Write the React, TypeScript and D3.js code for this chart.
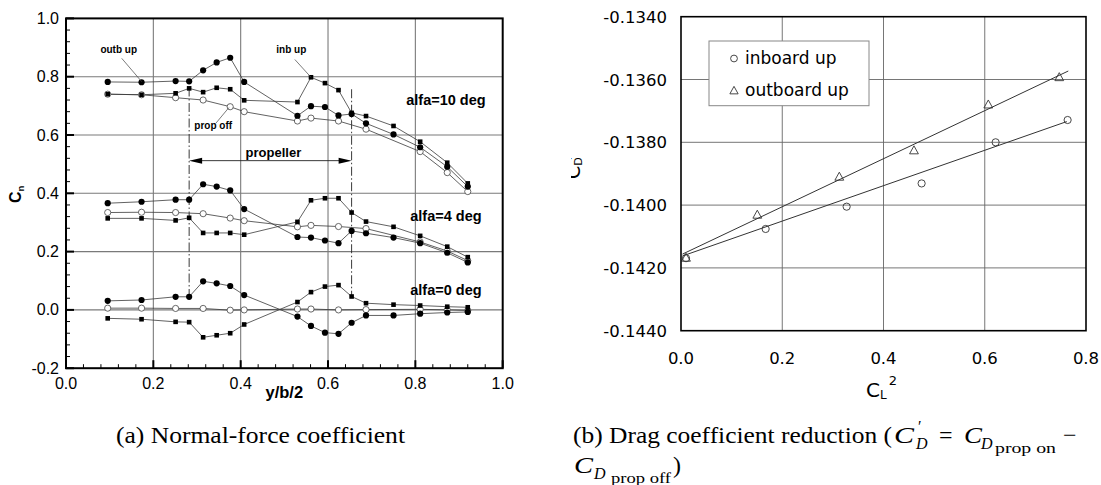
import React from "react";
import * as d3 from "d3";

// ---------- Left chart data (normal-force coefficient) ----------
const stations = [0.0955, 0.173, 0.251, 0.282, 0.314, 0.345, 0.376, 0.408, 0.530, 0.561, 0.593, 0.624, 0.654, 0.687, 0.750, 0.811, 0.873, 0.920];
const propOffStations = [0.0955, 0.173, 0.251, 0.314, 0.376, 0.408, 0.530, 0.561, 0.624, 0.687, 0.811, 0.873, 0.920];

const outbUp10 = [0.782, 0.781, 0.785, 0.784, 0.822, 0.849, 0.865, 0.782, 0.666, 0.699, 0.696, 0.667, 0.672, 0.640, 0.602, 0.558, 0.491, 0.423];
const inbUp10 = [0.740, 0.738, 0.743, 0.760, 0.747, 0.762, 0.757, 0.719, 0.713, 0.798, 0.778, 0.754, 0.676, 0.665, 0.631, 0.577, 0.505, 0.434];
const propOff10 = [0.740, 0.738, 0.728, 0.720, 0.697, 0.680, 0.648, 0.658, 0.648, 0.620, 0.543, 0.471, 0.406];

const outbUp4 = [0.366, 0.371, 0.378, 0.378, 0.431, 0.423, 0.410, 0.346, 0.250, 0.248, 0.238, 0.229, 0.271, 0.263, 0.248, 0.229, 0.196, 0.163];
const inbUp4 = [0.314, 0.314, 0.307, 0.316, 0.264, 0.264, 0.264, 0.258, 0.302, 0.376, 0.383, 0.383, 0.334, 0.303, 0.285, 0.254, 0.217, 0.181];
const propOff4 = [0.334, 0.335, 0.334, 0.330, 0.315, 0.306, 0.285, 0.290, 0.286, 0.279, 0.233, 0.202, 0.169];

const outbUp0 = [0.031, 0.034, 0.045, 0.045, 0.098, 0.091, 0.082, 0.051, -0.023, -0.055, -0.078, -0.082, -0.044, -0.019, -0.019, -0.013, -0.009, -0.007];
const inbUp0 = [-0.029, -0.032, -0.041, -0.042, -0.094, -0.087, -0.080, -0.050, 0.027, 0.061, 0.080, 0.085, 0.046, 0.023, 0.018, 0.015, 0.011, 0.009];
const propOff0 = [0.006, 0.006, 0.005, 0.005, -0.001, 0.000, 0.003, 0.003, 0.000, 0.001, 0.002, 0.000, -0.002];

const leftXTicks = [0.0, 0.2, 0.4, 0.6, 0.8, 1.0];
const leftYTicks = [-0.2, 0.0, 0.2, 0.4, 0.6, 0.8, 1.0];
const propellerEdges = [0.282, 0.654];
const propellerLineTop = [0.763, 0.757];
const propellerLineBottom = 0.046;
const propellerArrowY = 0.512;

const caseLabels = ["alfa=10 deg", "alfa=4 deg", "alfa=0 deg"];
const caseLabelX = 0.870;
const caseLabelY = [0.703, 0.306, 0.051];

// annotation: [text, x, y, leaderFromX, leaderFromY, leaderToX, leaderToY]
const annotations: [string, number, number, number, number, number, number][] = [
  ["outb up", 0.1207, 0.882, 0.1276, 0.863, 0.1733, 0.783],
  ["inb up", 0.516, 0.880, 0.524, 0.859, 0.561, 0.798],
  ["prop off", 0.337, 0.619, 0.343, 0.640, 0.373, 0.694],
];

// ---------- Right chart data (drag coefficient reduction) ----------
const inboardX = [0.0099, 0.1672, 0.3272, 0.4753, 0.6215, 0.7637];
const inboardY = [-0.14169, -0.14076, -0.14005, -0.13931, -0.13800, -0.13729];
const outboardX = [0.0099, 0.1507, 0.3127, 0.4602, 0.6070, 0.7472];
const outboardY = [-0.14169, -0.14032, -0.13911, -0.13827, -0.13681, -0.13594];
const inboardFitX = [0.003, 0.762];
const inboardFitY = [-0.14162, -0.13734];
const outboardFitX = [0.003, 0.765];
const outboardFitY = [-0.14156, -0.13573];
const rightXTicks = [0.0, 0.2, 0.4, 0.6, 0.8];
const rightYTicks = [-0.144, -0.142, -0.140, -0.138, -0.136, -0.134];
const legendLabels = ["inboard up", "outboard up"];

export default function App() {
  const xL = d3.scaleLinear().domain([0, 1]).range([66, 502.7]);
  const yL = d3.scaleLinear().domain([-0.2, 1]).range([368.2, 18.4]);
  const xR = d3.scaleLinear().domain([0, 0.8]).range([681, 1086]);
  const yR = d3.scaleLinear().domain([-0.144, -0.134]).range([330.7, 16.7]);

  const lineL = d3.line<[number, number]>().x((d) => xL(d[0])).y((d) => yL(d[1]));
  const lineR = d3.line<[number, number]>().x((d) => xR(d[0])).y((d) => yR(d[1]));

  const zip = (xs: number[], ys: number[]) => xs.map((x, i) => [x, ys[i]] as [number, number]);

  const filledSeries = [outbUp10, outbUp4, outbUp0];
  const squareSeries = [inbUp10, inbUp4, inbUp0];
  const openSeries = [propOff10, propOff4, propOff0];

  const minorX = d3.range(0, 1.0001, 0.04);
  const minorY = d3.range(-0.2, 1.0001, 0.04);

  const lineColor = "#3a3a3a";
  const sansL = "'Liberation Sans', Arial, Helvetica, sans-serif";
  const sansR = "'DejaVu Sans', Verdana, sans-serif";
  const serif = "'Liberation Serif', 'Times New Roman', serif";

  const tri = (cx: number, cy: number, s: number) =>
    `M${cx},${cy - s * 0.62} L${cx + s * 0.55},${cy + s * 0.38} L${cx - s * 0.55},${cy + s * 0.38} Z`;

  const arrowY = yL(propellerArrowY);
  const aL = xL(propellerEdges[0]);
  const aR = xL(propellerEdges[1]);

  return (
    <svg
      width={1101}
      height={485}
      style={{ position: "absolute", left: 0, top: 0, background: "#fff" }}
      xmlns="http://www.w3.org/2000/svg"
    >
      <rect x={0} y={0} width={1101} height={485} fill="#fff" />
      <defs>
        <clipPath id="clipYTitle">
          <rect x={571} y={0} width={100} height={485} />
        </clipPath>
      </defs>

      {/* ================= LEFT CHART ================= */}
      {leftXTicks.slice(1, -1).map((t) => (
        <line key={"gx" + t} x1={xL(t)} x2={xL(t)} y1={yL(1)} y2={yL(-0.2)} stroke="#7a7a7a" strokeWidth={1.1} />
      ))}
      {leftYTicks.slice(1, -1).map((t) => (
        <line key={"gy" + t} x1={xL(0)} x2={xL(1)} y1={yL(t)} y2={yL(t)} stroke="#7a7a7a" strokeWidth={1.1} />
      ))}
      {minorX.map((t, i) => (
        <line key={"mx" + i} x1={xL(t)} x2={xL(t)} y1={yL(-0.2)} y2={yL(-0.2) - (i % 5 === 0 ? 8 : 4)} stroke="#000" strokeWidth={i % 5 === 0 ? 2 : 1} />
      ))}
      {minorY.map((t, i) => (
        <line key={"my" + i} x1={xL(0)} x2={xL(0) + (i % 5 === 0 ? 8 : 4)} y1={yL(t)} y2={yL(t)} stroke="#000" strokeWidth={i % 5 === 0 ? 2 : 1} />
      ))}

      {propellerEdges.map((e, i) => (
        <line key={"pe" + i} x1={xL(e)} x2={xL(e)} y1={yL(propellerLineTop[i])} y2={yL(propellerLineBottom)} stroke="#222" strokeWidth={0.9} strokeDasharray="9,2.5,1.5,2.5" />
      ))}
      <line x1={aL + 10} x2={aR - 10} y1={arrowY} y2={arrowY} stroke="#222" strokeWidth={0.9} />
      <path d={`M${aL},${arrowY} L${aL + 13},${arrowY - 3} L${aL + 13},${arrowY + 3} Z`} fill="#000" />
      <path d={`M${aR},${arrowY} L${aR - 13},${arrowY - 3} L${aR - 13},${arrowY + 3} Z`} fill="#000" />
      <text x={xL(0.475)} y={arrowY - 4} textAnchor="middle" fontFamily={sansL} fontWeight="bold" fontSize={13}>
        propeller
      </text>

      {filledSeries.map((s, k) => (
        <path key={"fl" + k} d={lineL(zip(stations, s)) || ""} fill="none" stroke={lineColor} strokeWidth={0.8} />
      ))}
      {squareSeries.map((s, k) => (
        <path key={"sl" + k} d={lineL(zip(stations, s)) || ""} fill="none" stroke={lineColor} strokeWidth={0.8} />
      ))}
      {openSeries.map((s, k) => (
        <path key={"ol" + k} d={lineL(zip(propOffStations, s)) || ""} fill="none" stroke={lineColor} strokeWidth={0.8} />
      ))}

      {openSeries.map((s, k) =>
        s.map((v, i) => (
          <circle key={`om${k}-${i}`} cx={xL(propOffStations[i])} cy={yL(v)} r={3.1} fill="#fff" stroke="#444" strokeWidth={0.8} />
        ))
      )}
      {squareSeries.map((s, k) =>
        s.map((v, i) => (
          <rect key={`sm${k}-${i}`} x={xL(stations[i]) - 2.3} y={yL(v) - 2.3} width={4.6} height={4.6} fill="#000" />
        ))
      )}
      {filledSeries.map((s, k) =>
        s.map((v, i) => (
          <circle key={`fm${k}-${i}`} cx={xL(stations[i])} cy={yL(v)} r={3.1} fill="#000" />
        ))
      )}

      {annotations.map((a) => (
        <g key={a[0]}>
          <line x1={xL(a[3])} y1={yL(a[4])} x2={xL(a[5])} y2={yL(a[6])} stroke="#444" strokeWidth={0.7} />
          <text x={xL(a[1])} y={yL(a[2])} textAnchor="middle" fontFamily={sansL} fontWeight="bold" fontSize={10}>
            {a[0]}
          </text>
        </g>
      ))}
      {caseLabels.map((c, i) => (
        <text key={c} x={xL(caseLabelX)} y={yL(caseLabelY[i])} textAnchor="middle" fontFamily={sansL} fontWeight="bold" fontSize={14.5}>
          {c}
        </text>
      ))}

      <rect x={xL(0)} y={yL(1)} width={xL(1) - xL(0)} height={yL(-0.2) - yL(1)} fill="none" stroke="#000" strokeWidth={2} />

      {leftXTicks.map((t) => (
        <text key={"xl" + t} x={xL(t)} y={388.5} textAnchor="middle" fontFamily={sansL} fontSize={16}>
          {d3.format(".1f")(t)}
        </text>
      ))}
      {leftYTicks.map((t) => (
        <text key={"yl" + t} x={59} y={yL(t) + 5.5} textAnchor="end" fontFamily={sansL} fontSize={16}>
          {d3.format(".1f")(t).replace("−", "-")}
        </text>
      ))}
      <text x={xL(0.5)} y={397.5} textAnchor="middle" fontFamily={sansL} fontWeight="bold" fontSize={16.5}>
        y/b/2
      </text>
      <text transform="translate(21,203) rotate(-90)" fontFamily={sansL} fontWeight="bold" fontSize={16}>
        C<tspan fontSize={9.5} dy={3}>n</tspan>
      </text>

      {/* ================= RIGHT CHART ================= */}
      {rightXTicks.slice(1, -1).map((t) => (
        <line key={"rgx" + t} x1={xR(t)} x2={xR(t)} y1={yR(-0.134)} y2={yR(-0.144)} stroke="#666" strokeWidth={0.9} />
      ))}
      {rightYTicks.slice(1, -1).map((t) => (
        <line key={"rgy" + t} x1={xR(0)} x2={xR(0.8)} y1={yR(t)} y2={yR(t)} stroke="#666" strokeWidth={0.9} />
      ))}
      <path d={lineR(zip(inboardFitX, inboardFitY)) || ""} fill="none" stroke="#333" strokeWidth={1} />
      <path d={lineR(zip(outboardFitX, outboardFitY)) || ""} fill="none" stroke="#333" strokeWidth={1} />
      {inboardX.map((x, i) => (
        <circle key={"ib" + i} cx={xR(x)} cy={yR(inboardY[i])} r={3.6} fill="none" stroke="#333" strokeWidth={0.9} />
      ))}
      {outboardX.map((x, i) => (
        <path key={"ob" + i} d={tri(xR(x), yR(outboardY[i]), 8)} fill="none" stroke="#333" strokeWidth={0.9} />
      ))}
      <rect x={xR(0)} y={yR(-0.134)} width={xR(0.8) - xR(0)} height={yR(-0.144) - yR(-0.134)} fill="none" stroke="#000" strokeWidth={1.6} />
      <rect x={709} y={41} width={160} height={64.7} fill="#fff" stroke="#888" strokeWidth={1} />
      <circle cx={734} cy={58.5} r={3.4} fill="none" stroke="#333" strokeWidth={0.9} />
      <text x={745} y={64} fontFamily={sansR} fontSize={17}>
        {legendLabels[0]}
      </text>
      <path d={tri(734, 91, 7.5)} fill="none" stroke="#333" strokeWidth={0.9} />
      <text x={745} y={96} fontFamily={sansR} fontSize={17}>
        {legendLabels[1]}
      </text>
      {rightXTicks.map((t) => (
        <text key={"rxl" + t} x={xR(t)} y={363.5} textAnchor="middle" fontFamily={sansR} fontSize={16.5}>
          {d3.format(".1f")(t)}
        </text>
      ))}
      {rightYTicks.map((t) => (
        <text key={"ryl" + t} x={667} y={yR(t) + 6} textAnchor="end" fontFamily={sansR} fontSize={16.5}>
          {d3.format(".4f")(t).replace("−", "-")}
        </text>
      ))}
      <text x={866} y={397} fontFamily={sansR} fontSize={20}>
        C<tspan fontSize={12} dy={2}>L</tspan>
        <tspan fontSize={13} dy={-14} dx={2}>2</tspan>
      </text>
      <g clipPath="url(#clipYTitle)">
        <text transform="translate(580,179) rotate(-90)" fontFamily={sansR} fontSize={19}>
          C<tspan fontSize={11} dy={2}>D</tspan>
          <tspan fontSize={12} dy={-5} dx={-3}>'</tspan>
        </text>
      </g>

      {/* ================= CAPTIONS ================= */}
      <text x={116} y={443} fontFamily={serif} fontSize={23.5} textLength={289} lengthAdjust="spacingAndGlyphs">
        (a) Normal-force coefficient
      </text>
      <text x={573} y={443} fontFamily={serif} fontSize={23.5} textLength={319} lengthAdjust="spacingAndGlyphs">
        (b) Drag coefficient reduction (
      </text>
      <text x={894} y={443} fontFamily={serif} fontSize={24} fontStyle="italic" textLength={20} lengthAdjust="spacingAndGlyphs">
        C
      </text>
      <text x={916} y={449} fontFamily={serif} fontSize={16} fontStyle="italic">
        D
      </text>
      <text x={918} y={432} fontFamily={serif} fontSize={16}>
        ′
      </text>
      <text x={939} y={443} fontFamily={serif} fontSize={24}>
        =
      </text>
      <text x={964} y={443} fontFamily={serif} fontSize={24} fontStyle="italic" textLength={18} lengthAdjust="spacingAndGlyphs">
        C
      </text>
      <text x={981} y={449} fontFamily={serif} fontSize={16} fontStyle="italic">
        D
      </text>
      <text x={995} y={453} fontFamily={serif} fontSize={14} textLength={61} lengthAdjust="spacingAndGlyphs">
        prop on
      </text>
      <text x={1063} y={443} fontFamily={serif} fontSize={24}>
        −
      </text>
      <text x={574} y={473} fontFamily={serif} fontSize={24} fontStyle="italic" textLength={19} lengthAdjust="spacingAndGlyphs">
        C
      </text>
      <text x={594} y={479} fontFamily={serif} fontSize={16} fontStyle="italic">
        D
      </text>
      <text x={611} y={483} fontFamily={serif} fontSize={14} textLength={60} lengthAdjust="spacingAndGlyphs">
        prop off
      </text>
      <text x={673} y={473} fontFamily={serif} fontSize={24}>
        )
      </text>
    </svg>
  );
}
